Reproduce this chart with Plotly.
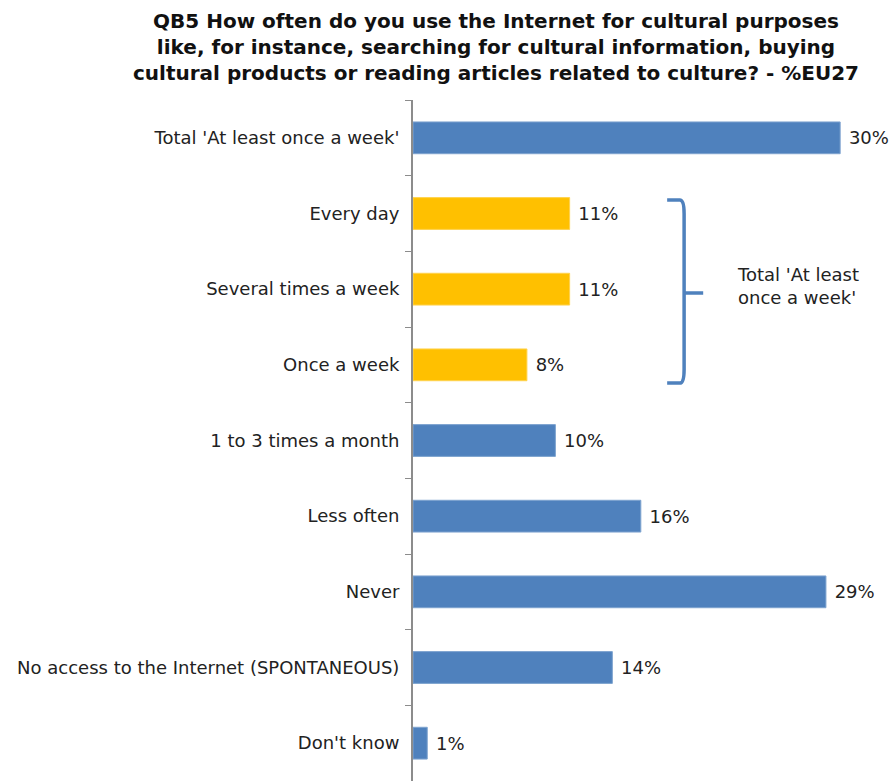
import plotly.graph_objects as go

categories = [
    "Total 'At least once a week'",
    "Every day",
    "Several times a week",
    "Once a week",
    "1 to 3 times a month",
    "Less often",
    "Never",
    "No access to the Internet (SPONTANEOUS)",
    "Don't know",
]
values = [30, 11, 11, 8, 10, 16, 29, 14, 1]
in_bracket = [False, True, True, True, False, False, False, False, False]

BLUE = "#4F81BD"
YELLOW = "#FFC000"
colors = [YELLOW if b else BLUE for b in in_bracket]
outline = ["#FFD24D" if b else "#7EA3CF" for b in in_bracket]

title_txt = ("QB5 How often do you use the Internet for cultural purposes<br>"
             "like, for instance, searching for cultural information, buying<br>"
             "cultural products or reading articles related to culture? - %EU27")

fig = go.Figure()
fig.add_trace(go.Bar(
    y=categories, x=values, orientation='h',
    marker=dict(color=colors, line=dict(color=outline, width=1)),
    width=0.42,
    text=[" %d%%" % v for v in values],
    textposition='outside',
    textfont=dict(family="DejaVu Sans", size=18, color="#222222"),
    cliponaxis=False,
))

# bracket "}" around the three yellow bars (x in data units, y in paper)
x0, x1, x2 = 17.85, 19.04, 20.38
yt, ym, yb = 0.853, 0.7166, 0.5844
path = (f"M {x0},{yt} L {x1-0.3},{yt} Q {x1},{yt} {x1},{yt-0.02} "
        f"L {x1},{yb+0.02} Q {x1},{yb} {x1-0.3},{yb} L {x0},{yb} "
        f"M {x1},{ym} L {x2},{ym}")
fig.add_shape(type="path", path=path, xref="x", yref="paper",
              line=dict(color=BLUE, width=3.5))

fig.add_annotation(x=22.6, y=0.727, xref="x", yref="paper",
                   text="Total 'At least<br>once a week'", showarrow=False,
                   xanchor="left", yanchor="middle", align="left",
                   font=dict(family="DejaVu Sans", size=18, color="#222222"))

# title as an annotation so the three lines sit below the top edge
fig.add_annotation(x=(496 - 413) / 477, y=1.136, xref="paper", yref="paper",
                   text="<b>" + title_txt + "</b>", showarrow=False,
                   xanchor="center", yanchor="top", align="center",
                   font=dict(family="DejaVu Sans", size=20, color="#111111"))

fig.update_layout(
    width=896, height=781,
    margin=dict(l=413, r=6, t=100, b=0),
    plot_bgcolor="white", paper_bgcolor="white",
    showlegend=False,
    xaxis=dict(range=[0, 33.5], visible=False),
    yaxis=dict(autorange="reversed", showline=True, linecolor="#8C8C8C",
               linewidth=2, ticks="outside", tickson="boundaries", ticklen=6,
               tickcolor="#8C8C8C", ticklabelstandoff=8,
               tickfont=dict(family="DejaVu Sans", size=18, color="#222222"),
               showgrid=False, zeroline=False),
)

fig.write_html("out.html", config={"displayModeBar": False},
               post_script="document.body.style.margin='0';")
